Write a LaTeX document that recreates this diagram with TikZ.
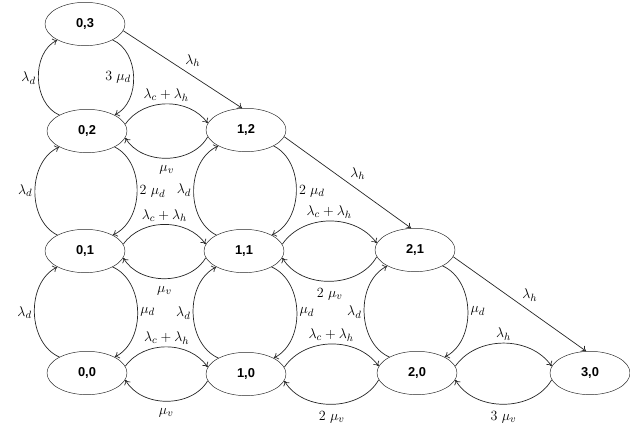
\documentclass[tikz,border=0pt]{standalone}
\usepackage{fontspec}
\setmainfont{Liberation Sans}
\usetikzlibrary{arrows.meta,shapes.geometric}
\definecolor{Ink}{HTML}{262626}

\begin{document}
\begin{tikzpicture}[x=0.03cm,y=-0.03cm,
    state/.style={draw=Ink,ellipse,minimum width=2.4cm,minimum height=1.3cm,inner sep=0pt,
      font=\bfseries\fontsize{11}{13}\selectfont},
    trans/.style={draw=Ink,line width=0.6pt,-{To[length=4pt,width=6pt]}},
    lab/.style={font=\fontsize{13}{15}\selectfont,inner sep=2pt}]
  \useasboundingbox (0,0) rectangle (630,437);
  \foreach \i/\j/\x/\y in {0/3/85/24,0/2/87/131,1/2/246/130,0/1/85/251,1/1/244/251,
      2/1/415/250,0/0/87/373,1/0/246/374,2/0/417/373,3/0/590/373}
    \node[state] (s\i\j) at (\x,\y) {\i,\j};
  \foreach \u/\l/\down/\side in {03/02/3\ \mu_d/left,02/01/2\ \mu_d/right,12/11/2\ \mu_d/right,
      01/00/\mu_d/right,11/10/\mu_d/right,21/20/\mu_d/right}{
    \draw[trans] (s\l.150) to[bend left=65] node[lab,left] {$\lambda_d$} (s\u.210);
    \draw[trans] (s\u.330) to[bend left=65] node[lab,\side] {$\down$} (s\l.30);
  }
  \foreach \a/\b/\up/\back in {02/12/\lambda_c + \lambda_h/\mu_v,01/11/\lambda_c + \lambda_h/\mu_v,
      11/21/\lambda_c + \lambda_h/2\ \mu_v,00/10/\lambda_c + \lambda_h/\mu_v,
      10/20/\lambda_c + \lambda_h/2\ \mu_v,20/30/\lambda_h/3\ \mu_v}{
    \draw[trans] (s\a.10) to[bend left=55] node[lab,above] {$\up$} (s\b.170);
    \draw[trans] (s\b.190) to[bend left=60] node[lab,below=4pt] {$\back$} (s\a.350);
  }
  \foreach \a/\b in {03/12,12/21,21/30}
    \draw[trans] (s\a.350) -- node[lab,above right] {$\lambda_h$} (s\b.100);
\end{tikzpicture}
\end{document}
